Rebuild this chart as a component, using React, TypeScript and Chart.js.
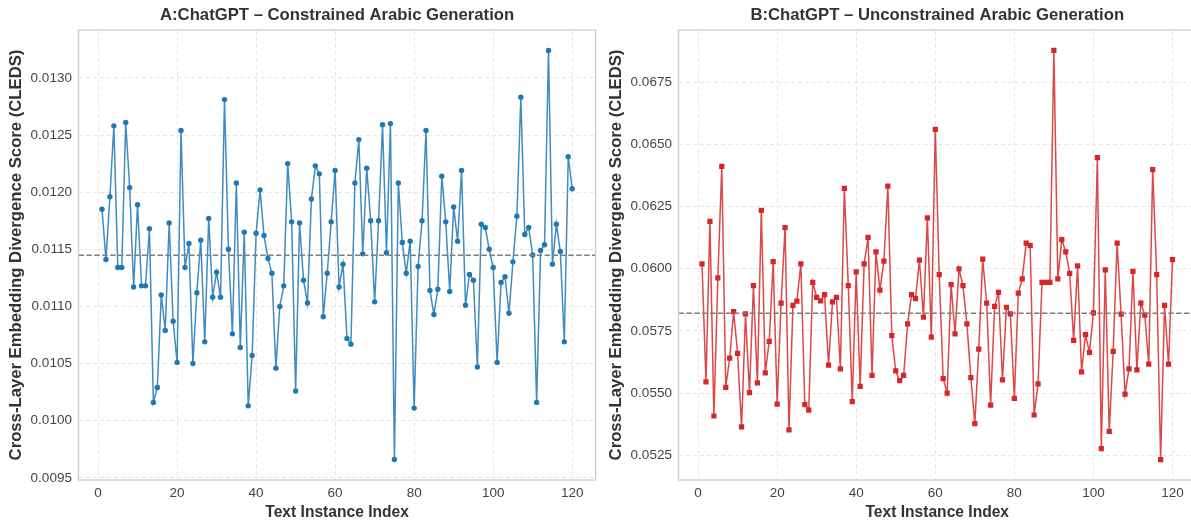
import React, { useEffect, useRef } from 'react';
import { Chart, registerables } from 'chart.js';

Chart.register(...registerables);

const FONT = '"Liberation Sans", Arial, Helvetica, sans-serif';

// ---------- data ----------
const titleA = 'A:ChatGPT – Constrained Arabic Generation';
const titleB = 'B:ChatGPT – Unconstrained Arabic Generation';
const xLabel = 'Text Instance Index';
const yLabel = 'Cross-Layer Embedding Divergence Score (CLEDS)';

const valuesA = [
  0.01185, 0.01141, 0.01196, 0.01258, 0.01134, 0.01134, 0.01261, 0.01204, 0.01117, 0.01189,
  0.01118, 0.01118, 0.01168, 0.01016, 0.01029, 0.01110, 0.01079, 0.01173, 0.01087, 0.01051,
  0.01254, 0.01134, 0.01155, 0.01050, 0.01112, 0.01158, 0.01069, 0.01177, 0.01108, 0.01130,
  0.01108, 0.01281, 0.01150, 0.01076, 0.01208, 0.01064, 0.01165, 0.01013, 0.01057, 0.01164,
  0.01202, 0.01162, 0.01142, 0.01129, 0.01046, 0.01100, 0.01118, 0.01225, 0.01174, 0.01026,
  0.01173, 0.01123, 0.01103, 0.01194, 0.01223, 0.01216, 0.01091, 0.01129, 0.01174, 0.01219,
  0.01117, 0.01137, 0.01072, 0.01067, 0.01208, 0.01246, 0.01146, 0.01221, 0.01175, 0.01104,
  0.01175, 0.01259, 0.01147, 0.01260, 0.00966, 0.01208, 0.01156, 0.01129, 0.01157, 0.01011,
  0.01135, 0.01175, 0.01254, 0.01114, 0.01093, 0.01115, 0.01214, 0.01174, 0.01113, 0.01187,
  0.01157, 0.01219, 0.01101, 0.01128, 0.01123, 0.01047, 0.01172, 0.01169, 0.01150, 0.01134,
  0.01051, 0.01121, 0.01126, 0.01094, 0.01139, 0.01179, 0.01283, 0.01163, 0.01169, 0.01145,
  0.01016, 0.01149, 0.01154, 0.01324, 0.01137, 0.01172, 0.01148, 0.01069, 0.01231, 0.01203,
];

const valuesB = [
  0.06019, 0.05545, 0.06190, 0.05408, 0.05963, 0.06411, 0.05523, 0.05641, 0.05827, 0.05660,
  0.05364, 0.05818, 0.05502, 0.05932, 0.05541, 0.06234, 0.05581, 0.05708, 0.06028, 0.05456,
  0.05862, 0.06165, 0.05352, 0.05853, 0.05870, 0.06019, 0.05454, 0.05432, 0.05945, 0.05885,
  0.05871, 0.05896, 0.05612, 0.05867, 0.05885, 0.05597, 0.06323, 0.05932, 0.05466, 0.05987,
  0.05527, 0.06019, 0.06126, 0.05571, 0.06068, 0.05914, 0.06030, 0.06332, 0.05731, 0.05589,
  0.05550, 0.05571, 0.05778, 0.05896, 0.05880, 0.06034, 0.05805, 0.06204, 0.05725, 0.06560,
  0.05976, 0.05558, 0.05500, 0.05936, 0.05738, 0.05999, 0.05932, 0.05778, 0.05562, 0.05377,
  0.05677, 0.06038, 0.05862, 0.05452, 0.05849, 0.05905, 0.05553, 0.05845, 0.05818, 0.05479,
  0.05902, 0.05959, 0.06103, 0.06094, 0.05412, 0.05537, 0.05945, 0.05945, 0.05945, 0.06877,
  0.05959, 0.06117, 0.06068, 0.05981, 0.05712, 0.06011, 0.05585, 0.05735, 0.05664, 0.05822,
  0.06446, 0.05277, 0.05995, 0.05346, 0.05668, 0.06103, 0.05817, 0.05496, 0.05597, 0.05989,
  0.05593, 0.05862, 0.05813, 0.05616, 0.06398, 0.05976, 0.05233, 0.05853, 0.05616, 0.06036,
];

const xTicks = [0, 20, 40, 60, 80, 100, 120];
const yTicksA = [0.0095, 0.01, 0.0105, 0.011, 0.0115, 0.012, 0.0125, 0.013];
const yTicksB = [0.0525, 0.055, 0.0575, 0.06, 0.0625, 0.065, 0.0675];

// ---------- styling ----------
const GRID = '#e6e6e6';
const FRAME = '#cccccc';
const TICK_COLOR = '#444444';
const LABEL_COLOR = '#333333';

function buildChart(
  canvas: HTMLCanvasElement,
  title: string,
  values: number[],
  yTicks: number[],
  color: string,
  lineColor: string,
  pointStyle: string,
  pointRadius: number,
  padRight: number,
) {
  const indices = values.map((_, i) => i + 1);
  const pts = values.map((v, i) => ({ x: indices[i], y: v }));
  const xMinD = indices[0];
  const xMaxD = indices[indices.length - 1];
  const xm = (xMaxD - xMinD) * 0.05;
  const xMin = xMinD - xm;
  const xMax = xMaxD + xm;
  const yMinD = Math.min(...values);
  const yMaxD = Math.max(...values);
  const ym = (yMaxD - yMinD) * 0.05;
  const mean = values.reduce((a, b) => a + b, 0) / values.length;

  const framePlugin = {
    id: 'frameTitle',
    afterDraw(chart: any) {
      const { ctx, chartArea } = chart;
      ctx.save();
      ctx.strokeStyle = FRAME;
      ctx.lineWidth = 1.3;
      ctx.strokeRect(chartArea.left, chartArea.top, chartArea.right - chartArea.left, chartArea.bottom - chartArea.top);
      ctx.fillStyle = LABEL_COLOR;
      ctx.font = `bold 16.7px ${FONT}`;
      ctx.textAlign = 'center';
      ctx.textBaseline = 'middle';
      ctx.fillText(title, (chartArea.left + chartArea.right) / 2, 15);
      ctx.restore();
    },
  };

  return new Chart(canvas, {
    type: 'line',
    data: {
      datasets: [
        {
          data: [
            { x: xMin, y: mean },
            { x: xMax, y: mean },
          ],
          borderColor: '#7f7f7f',
          borderWidth: 1.5,
          borderDash: [5.5, 2.4],
          pointRadius: 0,
          order: 0,
        },
        {
          data: pts,
          borderColor: lineColor,
          borderWidth: 1.5,
          pointStyle: pointStyle as any,
          pointRadius: pointRadius,
          pointBackgroundColor: color,
          pointBorderColor: color,
          pointBorderWidth: 0,
          tension: 0,
          order: 1,
        },
      ],
    },
    options: {
      animation: false,
      responsive: false,
      events: [],
      layout: { padding: { top: 30, right: padRight, left: 0, bottom: 0 } },
      plugins: {
        legend: { display: false },
        tooltip: { enabled: false },
        title: { display: false },
      },
      scales: {
        x: {
          type: 'linear',
          min: xMin,
          max: xMax,
          afterBuildTicks: (s: any) => {
            s.ticks = xTicks.map((v) => ({ value: v }));
          },
          afterFit: (s: any) => {
            s.height = 44;
          },
          grid: { color: GRID, lineWidth: 1, drawTicks: false },
          border: { display: false, dash: [4, 3] },
          ticks: {
            color: TICK_COLOR,
            font: { family: FONT, size: 13.5 },
            padding: 5,
            maxRotation: 0,
            callback: (v: any) => String(v),
          },
          title: {
            display: true,
            text: xLabel,
            color: LABEL_COLOR,
            font: { family: FONT, size: 15.6, weight: 'bold' },
            padding: { top: 0, bottom: 1.6 },
          },
        },
        y: {
          type: 'linear',
          min: yMinD - ym,
          max: yMaxD + ym,
          afterBuildTicks: (s: any) => {
            s.ticks = yTicks.map((v) => ({ value: v }));
          },
          afterFit: (s: any) => {
            s.width = 78.5;
          },
          grid: { color: GRID, lineWidth: 1, drawTicks: false },
          border: { display: false, dash: [4, 3] },
          ticks: {
            color: TICK_COLOR,
            font: { family: FONT, size: 13.5 },
            padding: 6.6,
            callback: (v: any) => Number(v).toFixed(4),
          },
          title: {
            display: true,
            text: yLabel,
            color: LABEL_COLOR,
            font: { family: FONT, size: 16.7, weight: 'bold' },
            padding: { top: 6, bottom: 0 },
          },
        },
      },
    } as any,
    plugins: [framePlugin],
  });
}

export default function App() {
  const refA = useRef<HTMLCanvasElement>(null);
  const refB = useRef<HTMLCanvasElement>(null);

  useEffect(() => {
    const a = buildChart(refA.current!, titleA, valuesA, yTicksA, '#1f77b4', 'rgba(31,119,180,0.85)', 'circle', 2.7, 4.3);
    const b = buildChart(refB.current!, titleB, valuesB, yTicksB, '#d62728', 'rgba(214,39,40,0.85)', 'rect', 3.7, 3.5);
    return () => {
      a.destroy();
      b.destroy();
    };
  }, []);

  return (
    <div
      style={{
        position: 'fixed',
        left: 0,
        top: 0,
        width: 1191,
        height: 524,
        overflow: 'hidden',
        background: '#ffffff',
      }}
    >
      <canvas ref={refA} width={600} height={524} style={{ position: 'absolute', left: 0, top: 0 }} />
      <canvas ref={refB} width={600} height={524} style={{ position: 'absolute', left: 600, top: 0 }} />
    </div>
  );
}
